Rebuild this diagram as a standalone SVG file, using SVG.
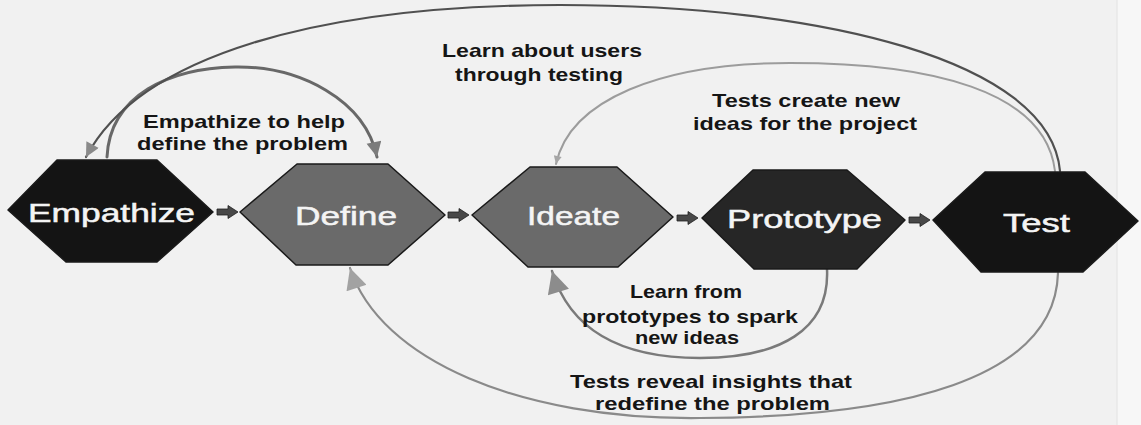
<svg xmlns="http://www.w3.org/2000/svg" xmlns:xlink="http://www.w3.org/1999/xlink" width="1141" height="425" viewBox="0 0 1141 425">
  <style>
    .hex { stroke: #1a1a1a; stroke-width: 1.5; stroke-linejoin: round; }
    .dark { fill: #141414; }
    .mid { fill: #6a6a6a; }
    .deep { fill: #262626; }
    .node-label { font-family: "Liberation Sans", Arial, sans-serif; font-size: 26px; fill: #f4f4f4; stroke: #f4f4f4; stroke-width: 0.5; }
    .note { font-family: "Liberation Sans", Arial, sans-serif; font-size: 19px; font-weight: bold; fill: #151515; }
    .link { fill: none; stroke-linecap: round; }
    .step { fill: #484848; stroke: #202020; stroke-width: 0.8; }
  </style>
  <defs>
    <marker id="head-a" viewBox="0 0 10 10" refX="10" refY="5" markerUnits="userSpaceOnUse" markerWidth="20" markerHeight="15" orient="auto">
      <path d="M0,0 L10,5 L0,10 z" fill="#7c7c7c"/>
    </marker>
    <marker id="head-b" viewBox="0 0 10 10" refX="10" refY="5" markerUnits="userSpaceOnUse" markerWidth="20" markerHeight="14" orient="auto">
      <path d="M0,0 L10,5 L0,10 z" fill="#8a8a8a"/>
    </marker>
    <marker id="head-c" viewBox="0 0 10 10" refX="10" refY="5" markerUnits="userSpaceOnUse" markerWidth="12" markerHeight="8" orient="auto">
      <path d="M0,0 L10,5 L0,10 z" fill="#a6a6a6"/>
    </marker>
    <marker id="head-d" viewBox="0 0 10 10" refX="10" refY="5" markerUnits="userSpaceOnUse" markerWidth="23" markerHeight="22" orient="auto">
      <path d="M0,0 L10,5 L0,10 z" fill="#8c8c8c"/>
    </marker>
    <marker id="head-e" viewBox="0 0 10 10" refX="10" refY="5" markerUnits="userSpaceOnUse" markerWidth="26" markerHeight="21" orient="auto">
      <path d="M0,0 L10,5 L0,10 z" fill="#a2a2a2"/>
    </marker>
    <!-- short block arrow between neighbouring steps -->
    <path id="step-arrow" d="M0,-3 L11,-3 L11,-6.5 L21,0 L11,6.5 L11,3 L0,3 z"/>
  </defs>

  <!-- paper -->
  <rect x="0" y="0" width="1141" height="425" fill="#f1f1f1"/>
  <rect x="1117" y="0" width="24" height="425" fill="#f7f7f7"/>
  <line x1="1117" y1="0" x2="1117" y2="425" stroke="#e2e2e2" stroke-width="1"/>

  <g id="connectors">
    <!-- Empathize -> Define -->
    <path class="link" d="M107,157 C110,95 170,68 235,67 C300,66 365,100 377,157" stroke="#686868" stroke-width="3" marker-end="url(#head-a)"/>
    <!-- Test -> Empathize -->
    <path class="link" d="M1060,171 C1050,60 820,5 560,5 C320,5 140,55 86,157" stroke="#505050" stroke-width="2.2" marker-end="url(#head-b)"/>
    <!-- Test -> Ideate -->
    <path class="link" d="M1055,171 C1045,90 930,63 790,63 C660,63 570,100 556,164" stroke="#9c9c9c" stroke-width="2" marker-end="url(#head-c)"/>
    <!-- Prototype -> Ideate -->
    <path class="link" d="M827,269 C830,330 780,358 700,358 C620,358 570,330 552,271" stroke="#7a7a7a" stroke-width="2.5" marker-end="url(#head-d)"/>
    <!-- Test -> Define -->
    <path class="link" d="M1058,273 C1055,380 900,417 700,418 C520,420 380,360 350,268" stroke="#8a8a8a" stroke-width="2.2" marker-end="url(#head-e)"/>
    <!-- sequence arrows -->
    <use xlink:href="#step-arrow" class="step" transform="translate(217,212)"/>
    <use xlink:href="#step-arrow" class="step" transform="translate(448,215)"/>
    <use xlink:href="#step-arrow" class="step" transform="translate(677,218)"/>
    <use xlink:href="#step-arrow" class="step" transform="translate(909,220)"/>
  </g>

  <g id="node-empathize">
    <polygon class="hex dark" points="8,210 57,160 157,160 213,212 157,262 66,262"/>
    <text class="node-label" x="28" y="222" textLength="167" lengthAdjust="spacingAndGlyphs">Empathize</text>
  </g>
  <g id="node-define">
    <polygon class="hex mid" points="240,212 297,164 388,164 445,215 388,265 296,265"/>
    <text class="node-label" x="295" y="225" textLength="102" lengthAdjust="spacingAndGlyphs">Define</text>
  </g>
  <g id="node-ideate">
    <polygon class="hex mid" points="472,215 530,167 617,167 673,217 618,267 528,267"/>
    <text class="node-label" x="527" y="225" textLength="93" lengthAdjust="spacingAndGlyphs">Ideate</text>
  </g>
  <g id="node-prototype">
    <polygon class="hex deep" points="702,218 753,170 847,170 905,220 857,269 754,269"/>
    <text class="node-label" x="727" y="228" textLength="155" lengthAdjust="spacingAndGlyphs">Prototype</text>
  </g>
  <g id="node-test">
    <polygon class="hex dark" points="933,220 985,172 1085,172 1138,221 1083,272 981,272"/>
    <text class="node-label" x="1003" y="232" textLength="67" lengthAdjust="spacingAndGlyphs">Test</text>
  </g>

  <g id="labels">
    <text class="note" x="442" y="57" textLength="200" lengthAdjust="spacingAndGlyphs">Learn about users</text>
    <text class="note" x="455" y="81" textLength="168" lengthAdjust="spacingAndGlyphs">through testing</text>
    <text class="note" x="143" y="128" textLength="202" lengthAdjust="spacingAndGlyphs">Empathize to help</text>
    <text class="note" x="137" y="150" textLength="211" lengthAdjust="spacingAndGlyphs">define the problem</text>
    <text class="note" x="712" y="107" textLength="188" lengthAdjust="spacingAndGlyphs">Tests create new</text>
    <text class="note" x="693" y="130" textLength="224" lengthAdjust="spacingAndGlyphs">ideas for the project</text>
    <text class="note" x="630" y="298" textLength="112" lengthAdjust="spacingAndGlyphs">Learn from</text>
    <text class="note" x="582" y="323" textLength="216" lengthAdjust="spacingAndGlyphs">prototypes to spark</text>
    <text class="note" x="635" y="344" textLength="104" lengthAdjust="spacingAndGlyphs">new ideas</text>
    <text class="note" x="570" y="388" textLength="282" lengthAdjust="spacingAndGlyphs">Tests reveal insights that</text>
    <text class="note" x="595" y="410" textLength="235" lengthAdjust="spacingAndGlyphs">redefine the problem</text>
  </g>
</svg>
